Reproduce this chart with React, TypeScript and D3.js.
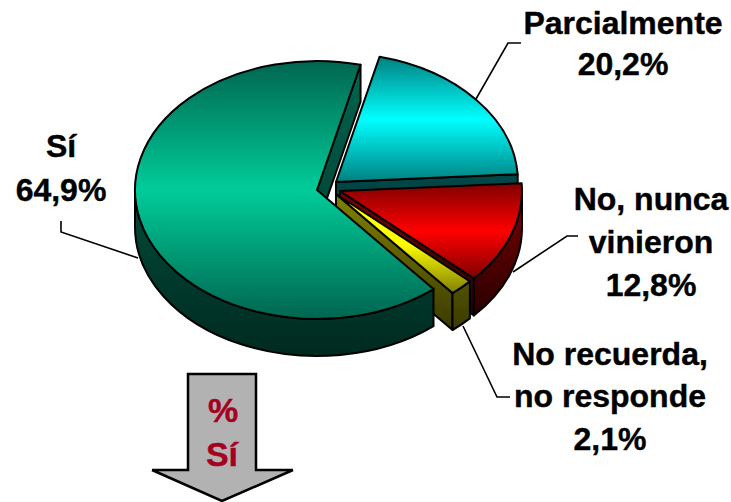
import React from 'react';
import * as d3 from 'd3';

const sliceNames = ['Sí', 'Parcialmente', 'No, nunca vinieron', 'No recuerda, no responde'];
const sliceValues = [64.9, 20.2, 12.8, 2.1];

const W = 731, H = 502;
const rx = 182, ry = 129, depth = 37;
const font = '"Liberation Sans", Arial, sans-serif';
const TAU = 2 * Math.PI;

// each slice has its own pulled-out centre
const centers: [number, number][] = [[317, 190], [336, 182], [340, 191], [336, 194]];
// [edge, middle, edge] for top face, [top, bottom] for the sides
const topColors = [
  ['#006650', '#00CC99', '#006650'],
  ['#008080', '#00FFFF', '#008080'],
  ['#800000', '#FF0000', '#800000'],
  ['#FFFF00', '#FFFF00', '#808000'],
];
const sideColors = [
  ['#006650', '#002a20'],
  ['#006a6a', '#003c3c'],
  ['#800000', '#2a0000'],
  ['#808000', '#3a3a00'],
];

const pie = d3.pie<number>().sort(null).value(d => d)
  .startAngle(140.2 * Math.PI / 180)
  .endAngle((140.2 + 360) * Math.PI / 180);
const arcs = pie(sliceValues).map(d =>
  d.startAngle >= TAU ? { ...d, startAngle: d.startAngle - TAU, endAngle: d.endAngle - TAU } : d);

const pt = (c: [number, number], a: number, dy = 0): [number, number] =>
  [c[0] + rx * Math.sin(a), c[1] - ry * Math.cos(a) + dy];

const ell = (c: [number, number], a0: number, a1: number, dy = 0) => {
  const [x, y] = pt(c, a1, dy);
  const large = Math.abs(a1 - a0) > Math.PI ? 1 : 0;
  const sweep = a1 > a0 ? 1 : 0;
  return `A${rx},${ry} 0 ${large} ${sweep} ${x},${y}`;
};

const topPath = (c: [number, number], a0: number, a1: number) => {
  const p0 = pt(c, a0);
  return `M${c[0]},${c[1]}L${p0[0]},${p0[1]}${ell(c, a0, a1)}Z`;
};

// outer rim, only the part facing the viewer (90deg to 270deg)
const rimPath = (c: [number, number], a0: number, a1: number) => {
  const from = Math.max(a0, Math.PI / 2);
  const to = Math.min(a1, 1.5 * Math.PI);
  if (to <= from) return null;
  const p0 = pt(c, from);
  const p1 = pt(c, to, depth);
  return `M${p0[0]},${p0[1]}${ell(c, from, to)}L${p1[0]},${p1[1]}${ell(c, to, from, depth)}Z`;
};

const wallPath = (c: [number, number], a: number) => {
  const p = pt(c, a);
  return `M${c[0]},${c[1]}L${p[0]},${p[1]}L${p[0]},${p[1] + depth}L${c[0]},${c[1] + depth}Z`;
};

const labels = [
  { x: 623, lines: ['Parcialmente', '20,2%'], y: [34, 75] },
  { x: 61, lines: ['Sí', '64,9%'], y: [157, 201] },
  { x: 651, lines: ['No, nunca', 'vinieron', '12,8%'], y: [210, 253, 296] },
  { x: 610, lines: ['No recuerda,', 'no responde', '2,1%'], y: [365, 407, 450] },
];

const leaders: [number, number][][] = [
  [[521, 43], [508, 43], [476, 99]],
  [[61, 221], [61, 232], [138, 258]],
  [[578, 236], [567, 236], [513, 272]],
  [[463, 326], [497, 397], [510, 397]],
];

const line = d3.line();

function Slice({ i }: { i: number }) {
  const d = arcs[i];
  const c = centers[i];
  const rim = rimPath(c, d.startAngle, d.endAngle);
  return (
    <g stroke="#000" strokeWidth={2} strokeLinejoin="round">
      <path d={wallPath(c, d.endAngle)} fill={`url(#side${i})`} />
      {rim && <path d={rim} fill={`url(#side${i})`} />}
      <path d={topPath(c, d.startAngle, d.endAngle)} fill={`url(#top${i})`} />
    </g>
  );
}

export default function App() {
  const gradBox = arcs.map((d, i) => {
    const c = centers[i];
    const ys = d3.range(0, 41).map(k => pt(c, d.startAngle + (d.endAngle - d.startAngle) * k / 40)[1]).concat(c[1]);
    return d3.extent(ys) as [number, number];
  });
  return (
    <svg width={W} height={H} style={{ position: 'absolute', left: 0, top: 0 }} fontFamily={font}>
      <defs>
        {arcs.map((d, i) => (
          <React.Fragment key={i}>
            <linearGradient id={`top${i}`} gradientUnits="userSpaceOnUse" x1={0} x2={0} y1={gradBox[i][0]} y2={gradBox[i][1]}>
              <stop offset="0" stopColor={topColors[i][0]} />
              <stop offset="0.5" stopColor={topColors[i][1]} />
              <stop offset="1" stopColor={topColors[i][2]} />
            </linearGradient>
            <linearGradient id={`side${i}`} gradientUnits="userSpaceOnUse" x1={0} x2={0} y1={gradBox[i][0]} y2={gradBox[i][1] + depth}>
              <stop offset="0" stopColor={sideColors[i][0]} />
              <stop offset="1" stopColor={sideColors[i][1]} />
            </linearGradient>
          </React.Fragment>
        ))}
      </defs>

      {/* painter's order: green cut wall first, its rim and face go last */}
      <path d={wallPath(centers[0], arcs[0].endAngle - TAU)} fill="url(#side0)" stroke="#000" strokeWidth={2} strokeLinejoin="round" />
      <Slice i={1} />
      <Slice i={2} />
      <Slice i={3} />
      <path d={rimPath(centers[0], arcs[0].startAngle, arcs[0].endAngle)!} fill="url(#side0)" stroke="#000" strokeWidth={2} />
      <path d={topPath(centers[0], arcs[0].startAngle, arcs[0].endAngle)} fill="url(#top0)" stroke="#000" strokeWidth={2} strokeLinejoin="round" />

      {leaders.map((l, i) => (
        <path key={i} d={line(l)!} fill="none" stroke="#000" strokeWidth={1.6} />
      ))}

      {labels.map((l, i) => (
        <text key={sliceNames[i]} textAnchor="middle" fontWeight="bold" fontSize={32} fill="#000" stroke="#000" strokeWidth={0.4}>
          {l.lines.map((t, k) => <tspan key={k} x={l.x} y={l.y[k]}>{t}</tspan>)}
        </text>
      ))}

      <path d="M152,470H188V374H256V470H293L222,501Z" fill="#B2B2B2" />
      <path d="M176,470H188V374H256V470H293M152,470H176M152,470L222,501L293,470" fill="none" stroke="#000" strokeWidth={2.5} />
      <text textAnchor="middle" fontWeight="bold" fontSize={34} fill="#A50021" stroke="#A50021" strokeWidth={0.4}>
        <tspan x={223} y={422}>%</tspan>
        <tspan x={222} y={466}>Sí</tspan>
      </text>
    </svg>
  );
}
